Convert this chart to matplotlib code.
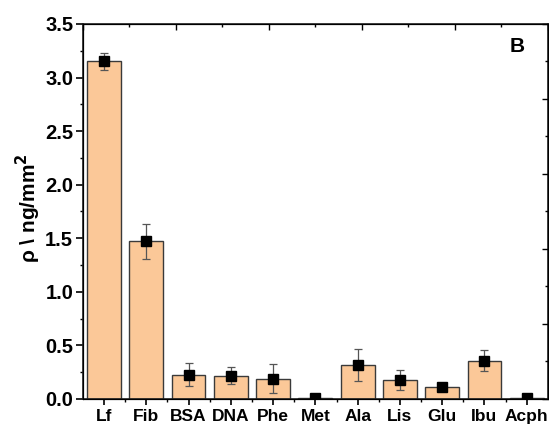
import numpy as np
import matplotlib.pyplot as plt
from matplotlib.ticker import MultipleLocator

plt.rcParams['font.family'] = ['Liberation Sans', 'DejaVu Sans']
plt.rcParams['font.weight'] = 'bold'

labels = ['Lf', 'Fib', 'BSA', 'DNA', 'Phe', 'Met', 'Ala', 'Lis', 'Glu', 'Ibu', 'Acph']
rho = [3.15, 1.47, 0.227, 0.218, 0.187, 0.01, 0.318, 0.178, 0.112, 0.358, 0.008]
err = [0.075, 0.16, 0.105, 0.08, 0.135, 0.005, 0.15, 0.09, 0.02, 0.095, 0.004]

x = np.arange(1, len(labels) + 1)

fig = plt.figure(figsize=(5.49, 4.26), dpi=100)
ax = fig.add_axes([0.151, 0.0634, 0.847, 0.8803])

ax.bar(x, rho, width=0.8, color='#fbc898', edgecolor='#3a3a3a', linewidth=1.0, zorder=2)
ax.errorbar(x, rho, yerr=err, fmt='s', color='black', markersize=6.5,
            ecolor='#555555', elinewidth=0.9, capsize=3, capthick=0.9, zorder=3)

ax.set_xlim(0.5, 11.5)
ax.set_ylim(0, 3.5)
ax.set_xticks(x)
ax.set_xticklabels(labels, fontsize=12.5, fontweight='bold')
ax.set_xticks(x[:-1] + 0.5, minor=True)
ax.yaxis.set_major_locator(MultipleLocator(0.5))
ax.yaxis.set_minor_locator(MultipleLocator(0.25))
ax.tick_params(axis='y', labelsize=14.5, direction='out', length=5, width=1.2, pad=2)
ax.tick_params(axis='x', direction='out', length=4.3, width=1.2, pad=3)
ax.tick_params(which='minor', direction='out', length=2.2, width=1.0)
for lab in ax.get_yticklabels():
    lab.set_fontweight('bold')
for sp in ax.spines.values():
    sp.set_linewidth(1.2)
    sp.set_color('#222222')

ax.set_ylabel('ρ \\ ng/mm$^\\mathbf{2}$', fontsize=15, fontweight='bold')
ax.yaxis.set_label_coords(-0.085, 0.51)

# top and right frame ticks (unlabelled)
axt = ax.twiny()
axt.set_xlim(0, 10)
axt.xaxis.set_major_locator(MultipleLocator(2))
axt.xaxis.set_minor_locator(MultipleLocator(1))
axt.tick_params(axis='x', which='both', direction='in', labeltop=False)
axt.tick_params(axis='x', which='major', length=4.3, width=1.0)
axt.tick_params(axis='x', which='minor', length=2.5, width=1.0)
axr = ax.twinx()
axr.set_ylim(0, 10)
axr.yaxis.set_major_locator(MultipleLocator(2))
axr.yaxis.set_minor_locator(MultipleLocator(1))
axr.tick_params(axis='y', which='both', direction='in', labelright=False)
axr.tick_params(axis='y', which='major', length=4.3, width=1.0)
axr.tick_params(axis='y', which='minor', length=2.5, width=1.0)

ax.text(0.935, 0.939, 'B', transform=ax.transAxes, fontsize=15, fontweight='bold',
        ha='center', va='center')

fig.savefig('out.png', dpi=100)
